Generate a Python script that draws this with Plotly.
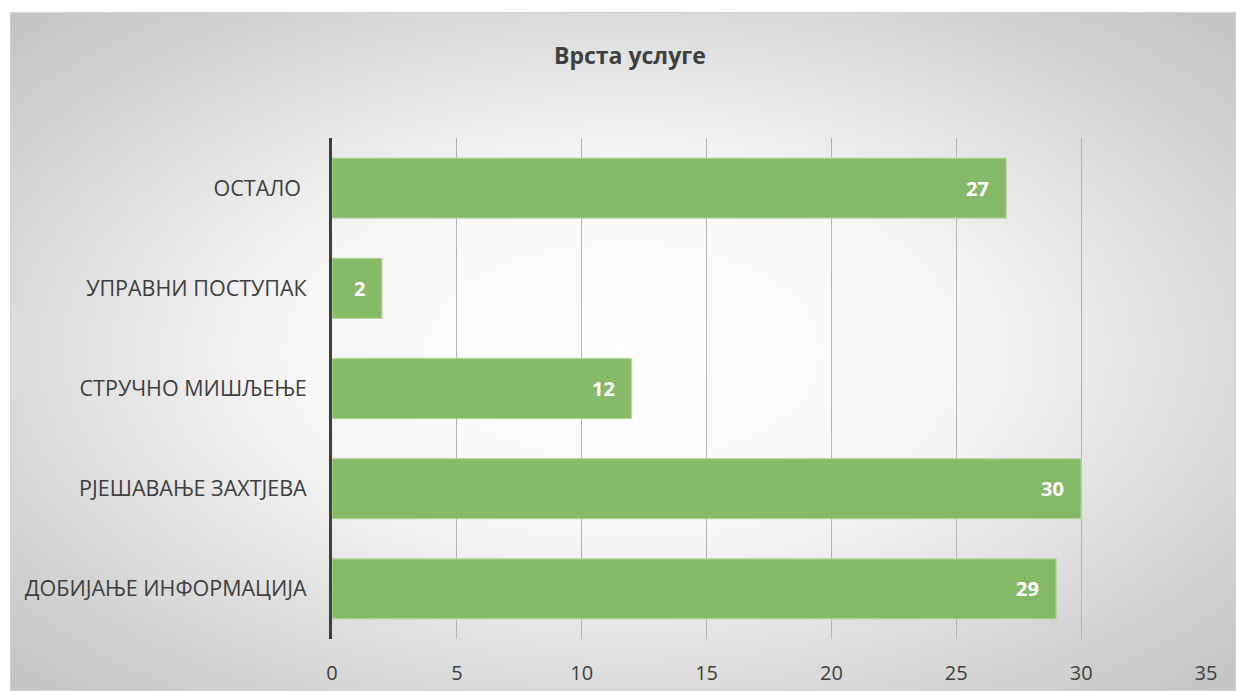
import base64
import plotly.graph_objects as go

categories = ["ДОБИЈАЊЕ ИНФОРМАЦИЈА", "РЈЕШАВАЊЕ ЗАХТЈЕВА", "СТРУЧНО МИШЉЕЊЕ", "УПРАВНИ ПОСТУПАК", "ОСТАЛО "]
values = [29, 30, 12, 2, 27]
x_ticks = [0, 5, 10, 15, 20, 25, 30, 35]
title_text = "Врста услуге"

W, H = 1236, 691
L, R, T, B = 332, 1206, 138, 639
pw, ph = R - L, B - T

def px_x(p):
    return (p - L) / pw

def px_y(p):
    return (B - p) / ph

svg = (
    '<svg xmlns="http://www.w3.org/2000/svg" width="1226" height="679" preserveAspectRatio="none">'
    '<defs><radialGradient id="g" cx="50%" cy="50%" r="75%">'
    '<stop offset="0%" stop-color="#ffffff"/>'
    '<stop offset="35%" stop-color="#f7f7f7"/>'
    '<stop offset="100%" stop-color="#bdbdbd"/>'
    '</radialGradient></defs>'
    '<rect x="0" y="0" width="1226" height="679" fill="url(#g)"/></svg>'
)
src = "data:image/svg+xml;base64," + base64.b64encode(svg.encode()).decode()

font = "Open Sans"

fig = go.Figure()
fig.add_trace(go.Bar(
    y=categories, x=values, orientation="h",
    marker=dict(color="#82B862", line=dict(color="#B5D7A0", width=1.2)),
    opacity=0.96,
    hoverinfo="skip",
))

for c, v in zip(categories, values):
    fig.add_annotation(x=v, y=c, text=f"<b>{v}</b>", showarrow=False,
                       xanchor="right", yanchor="middle", xshift=-15,
                       font=dict(family=font, size=20, color="white"))

fig.add_annotation(x=px_x(630), y=px_y(55), xref="paper", yref="paper",
                   xanchor="center", yanchor="middle",
                   text=f"<b>{title_text}</b>", showarrow=False,
                   font=dict(family=font, size=23, color="#404040"))

fig.add_layout_image(dict(
    source=src, xref="paper", yref="paper",
    x=px_x(10), y=px_y(12), sizex=(W - 10) / pw, sizey=(H - 12) / ph,
    xanchor="left", yanchor="top", sizing="stretch", layer="below",
))

fig.add_shape(type="rect", xref="paper", yref="paper",
              x0=px_x(10.5), x1=px_x(1235.5), y0=px_y(12.5), y1=px_y(690.5),
              line=dict(color="#d0d0d0", width=1), layer="below")

fig.update_layout(
    width=W, height=H,
    margin=dict(l=L, r=W - R, t=T, b=H - B, autoexpand=False),
    paper_bgcolor="white", plot_bgcolor="rgba(0,0,0,0)",
    bargap=0.4, showlegend=False,
    font=dict(family=font, color="#404040"),
)
fig.update_xaxes(range=[0, 35], tickvals=x_ticks, showgrid=True, gridcolor="#b4b4b4",
                 gridwidth=1, zeroline=False, showline=False, ticks="",
                 tickfont=dict(size=20, color="#404040"), ticklabelstandoff=20,
                 automargin=False, fixedrange=True)
fig.update_yaxes(categoryorder="array", categoryarray=categories, showgrid=False,
                 showline=True, linecolor="#404040", linewidth=3, ticks="",
                 tickfont=dict(size=21.5, color="#404040"), ticklabelstandoff=18,
                 automargin=False, fixedrange=True)

fig.write_html("out.html")
